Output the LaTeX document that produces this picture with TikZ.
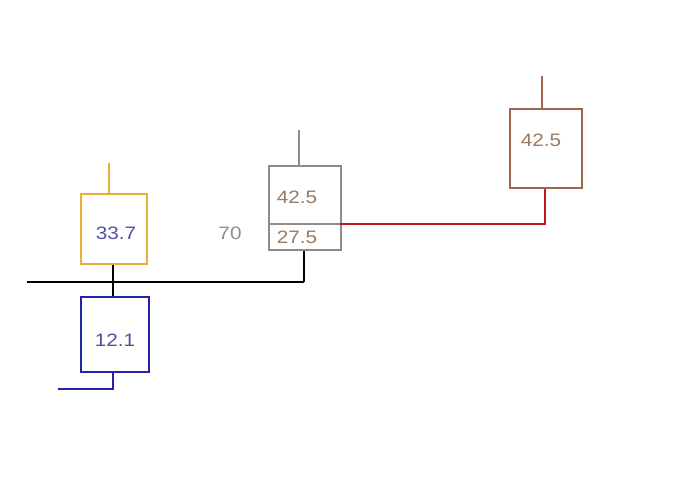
\documentclass[tikz,border=0pt]{standalone}
\usepackage{fontspec}
\setmainfont{Liberation Sans}
\definecolor{cyel}{HTML}{E8B038}
\definecolor{cblue}{HTML}{2424A8}
\definecolor{cgrey}{HTML}{8C8C8C}
\definecolor{cbrown}{HTML}{A0664A}
\definecolor{cred}{HTML}{C01818}
\definecolor{tblue}{HTML}{50509C}
\definecolor{tbrown}{HTML}{9A7A62}
\begin{document}
\begin{tikzpicture}[x=1pt,y=-1pt,line width=1.6pt,
  box/.style={draw,rectangle,inner sep=0pt,minimum width=#1},
  lbl/.style={font=\fontsize{18}{18}\selectfont,inner sep=0pt,xscale=1.15}]
\useasboundingbox (0,0) rectangle (700,492);
% yellow box
\node[box=66pt,draw=cyel,minimum height=70pt,anchor=north west] (ybox) at (80,193) {};
\node[lbl,text=tblue] (ytxt) at (116,233) {33.7};
\coordinate (ytop) at (109,163);
\draw[cyel] (ytop) -- (ytop|-ybox.north);
% bus
\coordinate (busL) at (27,282);
\coordinate (busR) at (304,282);
\draw[black] (busL) -- (busR);
\draw[black] (ybox.south -| 113,0) -- (113,282);
% blue box
\node[box=68pt,draw=cblue,minimum height=75pt,anchor=north west] (bbox) at (80,296) {};
\node[lbl,text=tblue] (btxt) at (115,340) {12.1};
\draw[black] (113,282) -- (bbox.north -| 113,0);
\coordinate (bend) at (113,389);
\coordinate (bleft) at (58,389);
\draw[cblue] (bbox.south -| bend) -- (bend) -- (bleft);
% grey box
\node[box=72pt,draw=cgrey,minimum height=84pt,anchor=north west] (gbox) at (268,165) {};
\coordinate (gdivL) at (268,224);
\coordinate (gdivR) at (340,224);
\draw[cgrey] (gdivL) -- (gdivR);
\node[lbl,text=tbrown] (g1) at (297,197) {42.5};
\node[lbl,text=tbrown] (g2) at (297,237) {27.5};
\node[lbl,text=cgrey] (seventy) at (230,233) {70};
\coordinate (gtop) at (299,130);
\draw[cgrey] (gtop) -- (gtop|-gbox.north);
\draw[black] (gbox.south -| busR) -- (busR);
% brown box
\node[box=72pt,draw=cbrown,minimum height=79pt,anchor=north west] (rbox) at (509,108) {};
\node[lbl,text=tbrown] (r1) at (541,140) {42.5};
\coordinate (rtop) at (542,76);
\draw[cbrown] (rtop) -- (rtop|-rbox.north);
\coordinate (rcorner) at (545,224);
\draw[cred] (gdivR) -- (rcorner) -- (rbox.south -| rcorner);
\end{tikzpicture}
\end{document}
